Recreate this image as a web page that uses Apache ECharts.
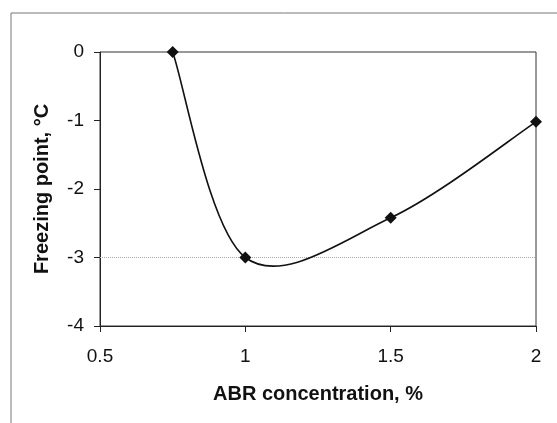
<!DOCTYPE html>
<html>
<head>
<meta charset="utf-8">
<script src="https://cdn.jsdelivr.net/npm/echarts@6/dist/echarts.min.js"></script>
<style>
html,body{margin:0;padding:0;background:#fff;}
#chart{width:557px;height:423px;}
</style>
</head>
<body>
<div id="chart"></div>
<script>
const concentration = [0.75, 1.0, 1.5, 2.0];
const freezingPoint = [0, -3.0, -2.42, -1.02];
const xTicks = [0.5, 1, 1.5, 2];
const yTicks = [-4, -3, -2, -1, 0];
const visibleGridLines = [-3];

const points = concentration.map((x, i) => [x, freezingPoint[i]]);

const chart = echarts.init(document.getElementById('chart'), null, {renderer: 'canvas'});
const font = '"Liberation Sans", Arial, sans-serif';

// Excel-style smoothed line (Catmull-Rom bezier through the data points, in pixel space)
function renderSmooth(params, api) {
  if (params.dataIndex !== 0) return null;
  const p = points.map(d => api.coord(d));
  const n = p.length;
  let path = 'M' + p[0][0] + ' ' + p[0][1];
  for (let i = 0; i < n - 1; i++) {
    const p0 = p[Math.max(i - 1, 0)], p1 = p[i], p2 = p[i + 1], p3 = p[Math.min(i + 2, n - 1)];
    const c1x = p1[0] + (p2[0] - p0[0]) / 6, c1y = p1[1] + (p2[1] - p0[1]) / 6;
    const c2x = p2[0] - (p3[0] - p1[0]) / 6, c2y = p2[1] - (p3[1] - p1[1]) / 6;
    path += ' C' + c1x + ' ' + c1y + ' ' + c2x + ' ' + c2y + ' ' + p2[0] + ' ' + p2[1];
  }
  return {
    type: 'path',
    shape: {pathData: path},
    style: {fill: 'none', stroke: '#111', lineWidth: 1.6}
  };
}

chart.setOption({
  animation: false,
  backgroundColor: '#fff',
  graphic: [{
    type: 'rect',
    shape: {x: 11, y: 13, width: 600, height: 500},
    style: {fill: 'none', stroke: '#777', lineWidth: 1},
    silent: true,
    z: -10
  }],
  grid: {
    left: 100, right: 21, top: 52, bottom: 97,
    show: true, borderColor: '#333', borderWidth: 1, backgroundColor: 'transparent'
  },
  xAxis: {
    type: 'value',
    min: xTicks[0], max: xTicks[xTicks.length - 1], interval: 0.5,
    name: 'ABR concentration, %',
    nameLocation: 'middle', nameGap: 58,
    nameTextStyle: {fontFamily: font, fontSize: 20, fontWeight: 'bold', color: '#111'},
    axisLine: {show: true, onZero: false, lineStyle: {color: '#222', width: 1}},
    axisTick: {show: true, length: 6, inside: false, lineStyle: {color: '#222'}},
    axisLabel: {fontFamily: font, fontSize: 19, color: '#111', margin: 21,
      formatter: v => String(v)},
    splitLine: {show: false}
  },
  yAxis: {
    type: 'value',
    min: yTicks[0], max: yTicks[yTicks.length - 1], interval: 1,
    name: 'Freezing point, °C',
    nameLocation: 'middle', nameGap: 48, nameRotate: 90,
    nameTextStyle: {fontFamily: font, fontSize: 20, fontWeight: 'bold', color: '#111'},
    axisLine: {show: true, onZero: false, lineStyle: {color: '#222', width: 1}},
    axisTick: {show: true, length: 6, inside: false, lineStyle: {color: '#222'}},
    axisLabel: {fontFamily: font, fontSize: 19, color: '#111', margin: 16},
    splitLine: {show: false}
  },
  series: [{
    type: 'custom',
    renderItem: renderSmooth,
    data: points,
    clip: false,
    silent: true,
    z: 2,
    markLine: {
      silent: true, symbol: 'none', label: {show: false},
      lineStyle: {color: '#aaa', type: 'dotted', width: 1},
      data: visibleGridLines.map(v => ({yAxis: v})),
      z: 1
    }
  }, {
    type: 'scatter',
    data: points,
    symbol: 'diamond',
    symbolSize: 12,
    itemStyle: {color: '#111', opacity: 1},
    z: 3
  }]
});
</script>
</body>
</html>
